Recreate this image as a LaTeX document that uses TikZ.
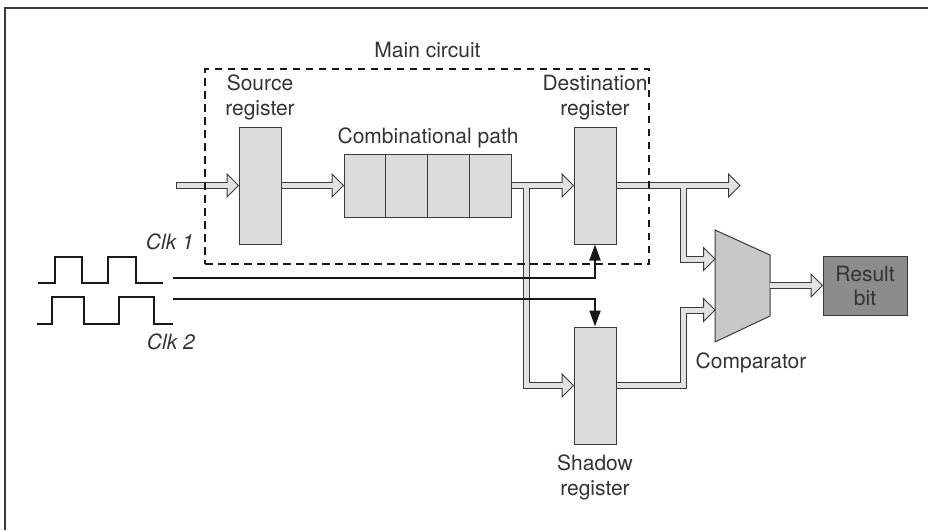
\documentclass[tikz,border=0pt]{standalone}
\usepackage{fontspec}
\setmainfont{TeX Gyre Heros}
\usetikzlibrary{arrows.meta,positioning}
\definecolor{txt}{HTML}{333333}
\definecolor{edge}{HTML}{3A3A3A}
\definecolor{regfill}{HTML}{DCDCDC}
\definecolor{busfill}{HTML}{E2E2E2}
\definecolor{cmpfill}{HTML}{C8C8C8}
\definecolor{resfill}{HTML}{8C8C8C}
\newcommand\busheadat[1]{%
  \begin{scope}[shift={#1}]
    \fill[busfill] (-11.5,-11.5) -- (0,0) -- (-11.5,11.5) -- cycle;
    \draw[edge, line width=1pt, line join=miter] (-11.5,2.6) -- (-11.5,11.5) -- (0,0) -- (-11.5,-11.5) -- (-11.5,-2.6);
  \end{scope}}
\begin{document}
\begin{tikzpicture}[x=1pt,y=-1pt, font=\fontsize{21}{25}\selectfont, text=txt,
  reg/.style={draw=edge, fill=regfill, line width=1pt, minimum width=42pt, minimum height=117pt, inner sep=0pt},
  cell/.style={draw=edge, fill=regfill, line width=1pt, minimum width=41.75pt, minimum height=63pt, inner sep=0pt},
  lbl/.style={align=center, inner sep=0pt},
  busout/.style={line width=7pt, draw=edge, line join=miter},
  busin/.style={line width=5pt, draw=busfill, line join=miter},
  clk/.style={line width=2pt, draw=black!90},
  clkarrow/.style={clk, -{Triangle[length=16pt,width=11pt]}},
  wave/.style={line width=2pt, draw=black!90, line join=miter},
  dashbox/.style={draw=black!90, line width=2pt, dash pattern=on 7.5pt off 5.5pt, minimum width=444pt, minimum height=195pt, inner sep=0pt}
]
\useasboundingbox (0,0) rectangle (928,530);
% frame
\draw[edge, line width=1.6pt] (5,530) -- (5,8) -- (928,8);

% registers and path
\node[reg] (src) at (260,185.5) {};
\node[reg] (dst) at (595,185.5) {};
\node[reg] (shd) at (595,385.5) {};
\node[cell] (c1) at (364.875,185.5) {};
\node[cell] (c2) at (406.625,185.5) {};
\node[cell] (c3) at (448.375,185.5) {};
\node[cell] (c4) at (490.125,185.5) {};

% comparator
\draw[draw=edge, fill=cmpfill, line width=1pt, line join=miter] (715,230) -- (770,255) -- (770,316) -- (715,342) -- cycle;
\coordinate (cmpA) at (715,259);
\coordinate (cmpB) at (715,310);
\coordinate (cmpO) at (770,285.5);
\node[draw=edge, fill=resfill, line width=1pt, minimum width=84pt, minimum height=59pt, align=center, inner sep=0pt] (res) at (865,285.5) {Result\\[-1pt]bit};

% bus coordinates
\coordinate (inS) at (176,185.5);
\coordinate (br1) at (526,185.5);
\coordinate (br2) at (683,185.5);
\coordinate (outT) at (740,185.5);

\newcommand\busall[1]{%
  \draw[#1] (src.east) -- ([xshift=-11pt]c1.west);
  \draw[#1] (c4.east) -- ([xshift=-11pt]dst.west);
  \draw[#1] (br1) |- ([xshift=-11pt]shd.west);
  \draw[#1] (dst.east) -- ([xshift=-11pt]outT);
  \draw[#1] (br2) |- ([xshift=-11pt]cmpA);
  \draw[#1] (shd.east) -| ([xshift=-32pt]cmpB) -- ([xshift=-11pt]cmpB);
  \draw[#1] (cmpO) -- ([xshift=-11pt]res.west);
}
\draw[busout] (inS) -- ([xshift=-11pt]src.west);
\busall{busout}
\draw[busin, shorten <=1pt] (inS) -- ([xshift=-11pt]src.west);
\busall{busin}
\busheadat{(src.west)}
\busheadat{(c1.west)}
\busheadat{(dst.west)}
\busheadat{(shd.west)}
\busheadat{(outT)}
\busheadat{(cmpA)}
\busheadat{(cmpB)}
\busheadat{(res.west)}

% main circuit box
\node[dashbox] (main) at (427,166.5) {};
\node[anchor=base, inner sep=0pt] (mainlbl) at (427.5,57) {Main circuit};

% labels
\node[lbl, above=6.5pt of src] (srclbl) {Source\\register};
\node[lbl, above=6.5pt of dst] (dstlbl) {Destination\\register};
\node[lbl, above=5pt] (comblbl) at (c2.north east) {Combinational path};
\node[lbl, below=10pt of shd] (shdlbl) {Shadow\\register};
\node[anchor=base, inner sep=0pt] (cmplbl) at (751,368) {Comparator};

% clocks
\coordinate (k1) at (173,278);
\coordinate (k2) at (173,299);
\draw[clkarrow] (k1) -| (dst.south);
\draw[clkarrow] (k2) -| (shd.north);
\draw[wave] (38,283) -- (55,283) -- (55,257) -- (82,257) -- (82,283) -- (108,283) -- (108,257) -- (136,257) -- (136,283) -- (163,283);
\draw[wave] (37,324) -- (52,324) -- (52,297) -- (84,297) -- (84,324) -- (119,324) -- (119,297) -- (154,297) -- (154,324) -- (173,324);
\node[anchor=base east, inner sep=0pt, font={\fontsize{21}{25}\selectfont\itshape}] (clk1lbl) at (194,249) {Clk 1};
\node[anchor=base east, inner sep=0pt, font={\fontsize{21}{25}\selectfont\itshape}] (clk2lbl) at (195,349) {Clk 2};
\end{tikzpicture}
\end{document}
